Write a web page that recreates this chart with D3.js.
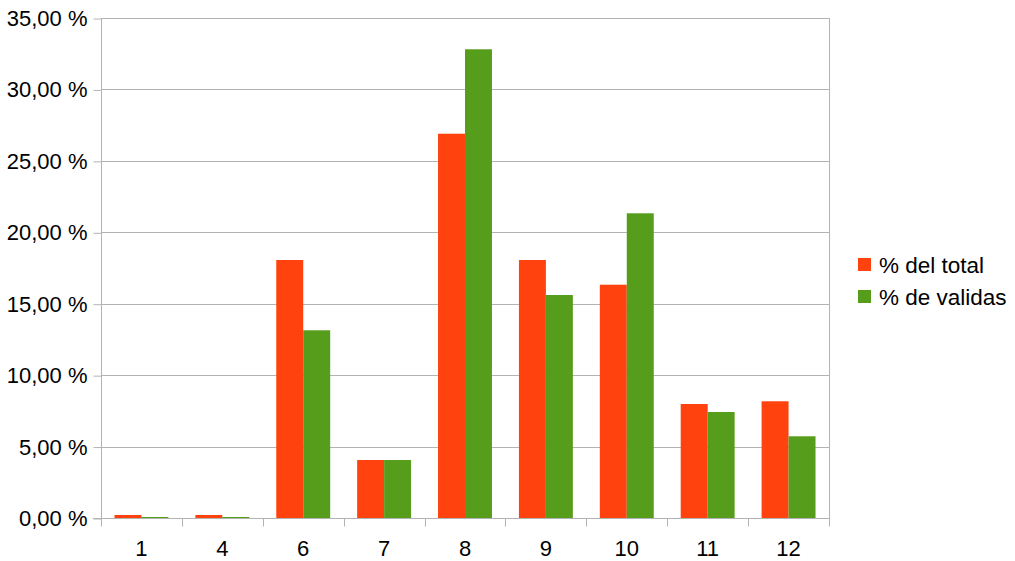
<!DOCTYPE html>
<html>
<head>
<meta charset="utf-8">
<script src="https://cdn.jsdelivr.net/npm/d3@7"></script>
<style>
  body { margin: 0; background: #fff; }
  text { font-family: "Liberation Sans", Arial, sans-serif; fill: #000; }
</style>
</head>
<body>
<div class="content"></div>
<script>
var categories = ["1", "4", "6", "7", "8", "9", "10", "11", "12"];
var seriesNames = ["% del total", "% de validas"];
var delTotal = [0.21, 0.21, 18.06, 4.06, 26.9, 18.06, 16.33, 7.98, 8.17];
var deValidas = [0.07, 0.07, 13.14, 4.06, 32.81, 15.61, 21.33, 7.42, 5.72];
var yTicks = [0, 5, 10, 15, 20, 25, 30, 35];
var colors = ["#ff420e", "#579d1c"];

var W = 1015, H = 561;
var plotLeft = 101, plotRight = 829, plotTop = 18, plotBottom = 518;

var svg = d3.select(".content").append("svg")
  .attr("width", W)
  .attr("height", H);

var x = d3.scaleBand().domain(categories).range([plotLeft, plotRight]);
var y = d3.scaleLinear().domain([0, 35]).range([plotBottom, plotTop]);

var fmt = function(d) { return d3.format(".2f")(d).replace(".", ",") + " %"; };

// gridlines
svg.append("g").selectAll("line")
  .data(yTicks)
  .enter().append("line")
    .attr("x1", plotLeft).attr("x2", plotRight)
    .attr("y1", function(d) { return Math.round(y(d)) + 0.5; })
    .attr("y2", function(d) { return Math.round(y(d)) + 0.5; })
    .attr("stroke", "#b3b3b3");

// bars
var data = categories.map(function(c, i) { return {cat: c, vals: [delTotal[i], deValidas[i]]}; });
var bw = x.bandwidth() / 3;
data.forEach(function(d) {
  svg.selectAll(null)
    .data(d.vals)
    .enter().append("rect")
      .attr("x", function(v, j) { return x(d.cat) + bw / 2 + j * bw; })
      .attr("y", function(v) { return y(v); })
      .attr("width", bw)
      .attr("height", function(v) { return plotBottom - y(v); })
      .attr("fill", function(v, j) { return colors[j]; });
});

// y axis
var yAxis = d3.axisLeft(y).tickValues(yTicks).tickFormat(fmt).tickSize(8).tickPadding(6);
var gy = svg.append("g").attr("transform", "translate(" + (plotLeft + 0.5) + ",0.5)").call(yAxis);
gy.selectAll("line, path").attr("stroke", "#b3b3b3");
gy.select(".domain").attr("d", "M0," + plotTop + "V" + plotBottom);
gy.selectAll("text").style("font-size", "22px").style("font-family", "Liberation Sans, Arial, sans-serif").attr("fill", "#000");

// x axis
var gx = svg.append("g").attr("transform", "translate(0," + (plotBottom + 0.5) + ")");
gx.append("line").attr("x1", plotLeft - 8).attr("x2", plotRight).attr("stroke", "#b3b3b3");
gx.selectAll(".tk")
  .data(categories.concat(["end"]))
  .enter().append("line")
    .attr("x1", function(d, i) { return Math.round(plotLeft + i * x.step()) + 0.5; })
    .attr("x2", function(d, i) { return Math.round(plotLeft + i * x.step()) + 0.5; })
    .attr("y1", 0).attr("y2", 8)
    .attr("stroke", "#b3b3b3");
gx.selectAll("text")
  .data(categories)
  .enter().append("text")
    .attr("x", function(d) { return x(d) + x.bandwidth() / 2; })
    .attr("y", 37)
    .attr("text-anchor", "middle")
    .style("font-size", "22px")
    .text(function(d) { return d; });

// right border
svg.append("line")
  .attr("x1", plotRight + 0.5).attr("x2", plotRight + 0.5)
  .attr("y1", plotTop).attr("y2", plotBottom + 8)
  .attr("stroke", "#b3b3b3");

// legend
var lg = svg.append("g").attr("transform", "translate(858,258)");
seriesNames.forEach(function(n, i) {
  lg.append("rect").attr("x", 0).attr("y", i * 32).attr("width", 13).attr("height", 13).attr("fill", colors[i]);
  lg.append("text").attr("x", 21).attr("y", i * 32 + 15).style("font-size", "22.5px").text(n);
});
</script>
</body>
</html>
